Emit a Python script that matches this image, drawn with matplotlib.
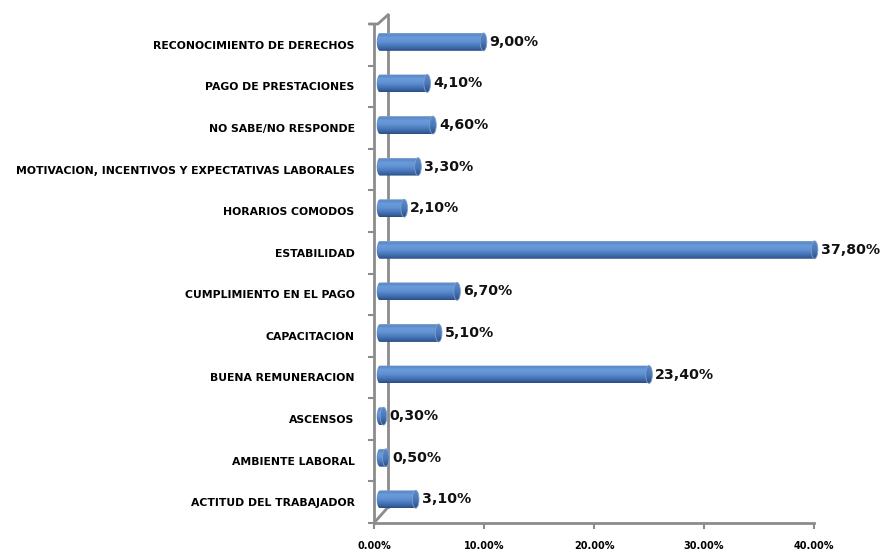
import numpy as np
import matplotlib
matplotlib.use('Agg')
import matplotlib.pyplot as plt
from matplotlib.patches import Ellipse, PathPatch
from matplotlib.path import Path
from matplotlib.colors import LinearSegmentedColormap

categories = ['ACTITUD DEL TRABAJADOR', 'AMBIENTE LABORAL', 'ASCENSOS',
              'BUENA REMUNERACION', 'CAPACITACION', 'CUMPLIMIENTO EN EL PAGO',
              'ESTABILIDAD', 'HORARIOS COMODOS',
              'MOTIVACION, INCENTIVOS Y EXPECTATIVAS LABORALES',
              'NO SABE/NO RESPONDE', 'PAGO DE PRESTACIONES',
              'RECONOCIMIENTO DE DERECHOS']
values = [3.10, 0.50, 0.30, 23.40, 5.10, 6.70, 37.80, 2.10, 3.30, 4.60, 4.10, 9.00]
xticks = [0, 10, 20, 30, 40]

# 3d look
BAR_H = 0.43
LIFT = 0.07
START = 0.55
DEPTH = 1.045
CAP_W = 0.6
AXCOL = '#8c8c8c'

body_cmap = LinearSegmentedColormap.from_list('body', [
    (0.0, '#2a4d80'), (0.15, '#3a66a6'), (0.5, '#5f90d2'),
    (0.75, '#6b9bd9'), (0.92, '#5688c8'), (1.0, '#8aa3c6')])
cap_cmap = LinearSegmentedColormap.from_list('cap', [
    (0.0, '#2e5084'), (0.5, '#4a79ba'), (1.0, '#5e8bc8')])

fig = plt.figure(figsize=(8.8, 5.54), dpi=100, facecolor='white')
ax = fig.add_axes([374 / 880, 1 - 523 / 554, 440 / 880, 499 / 554])
ax.set_xlim(0, 40)
ax.set_ylim(-0.5, len(categories) - 0.5)

grad = np.linspace(0, 1, 64).reshape(-1, 1)


def cylinder(y, v):
    x0 = START
    x1 = START + v * DEPTH
    yc = y + LIFT
    top, bot = yc + BAR_H / 2, yc - BAR_H / 2
    t = np.linspace(np.pi / 2, 3 * np.pi / 2, 30)
    arc = np.column_stack([x0 + CAP_W / 2 * np.cos(t), yc + BAR_H / 2 * np.sin(t)])
    verts = np.vstack([[[x1, top]], arc, [[x1, bot]], [[x1, top]]])
    codes = [Path.MOVETO] + [Path.LINETO] * (len(verts) - 2) + [Path.CLOSEPOLY]
    body = PathPatch(Path(verts, codes), facecolor='none', edgecolor='none',
                     clip_on=False)
    ax.add_patch(body)
    im = ax.imshow(grad, cmap=body_cmap, aspect='auto', origin='lower',
                   extent=[x0 - CAP_W, x1 + CAP_W, bot, top], zorder=3)
    im.set_clip_path(body)
    im.set_clip_box(fig.bbox)
    cap = Ellipse((x1, yc), CAP_W, BAR_H, facecolor='none', edgecolor='none',
                  clip_on=False)
    ax.add_patch(cap)
    im2 = ax.imshow(grad, cmap=cap_cmap, aspect='auto', origin='lower',
                    extent=[x1 - CAP_W, x1 + CAP_W, bot, top], zorder=4)
    im2.set_clip_path(cap)
    im2.set_clip_box(fig.bbox)
    ax.add_patch(Ellipse((x1, yc), CAP_W, BAR_H, facecolor='none',
                         edgecolor='#7d9fcf', lw=0.6, zorder=5, clip_on=False))
    return x1 + CAP_W / 2


for i, v in enumerate(values):
    xend = cylinder(i, v)
    ax.annotate(f'{v:.2f}%'.replace('.', ','), (xend, i + LIFT),
                xytext=(2, 0), textcoords='offset points', va='center',
                ha='left', fontsize=10.2, fontweight='bold', color='#111111',
                family='DejaVu Sans', zorder=6, annotation_clip=False)

# back wall line and floor edges
d = 1.27
ax.plot([d, d], [-0.5 + 0.38, len(categories) - 0.5 + 0.22], color=AXCOL,
        lw=2, clip_on=False, zorder=1)
ax.plot([0, d], [-0.5, -0.5 + 0.38], color=AXCOL, lw=2, clip_on=False, zorder=1)
ax.plot([-0.35, 0.35, d], [len(categories) - 0.5, len(categories) - 0.5,
                            len(categories) - 0.5 + 0.22],
        color=AXCOL, lw=2, clip_on=False, zorder=1)

for s in ['top', 'right']:
    ax.spines[s].set_visible(False)
for s in ['left', 'bottom']:
    ax.spines[s].set_color(AXCOL)
    ax.spines[s].set_linewidth(2)

ax.set_yticks(np.arange(len(categories) + 1) - 0.5)
ax.set_yticklabels([])
ax.set_yticks(np.arange(len(categories)), minor=True)
ax.set_yticklabels(categories, minor=True, fontsize=7.8, fontweight='bold',
                   family='DejaVu Sans')
ax.tick_params(axis='y', which='major', length=4, width=1.5, color=AXCOL)
ax.tick_params(axis='y', which='minor', length=0, pad=14)

ax.set_xticks(xticks)
ax.set_xticklabels([f'{t:.2f}%' for t in xticks], fontsize=7, fontweight='bold',
                   family='DejaVu Sans')
ax.tick_params(axis='x', length=4, width=1.5, color=AXCOL, pad=9)

fig.savefig('out.png', dpi=100, facecolor='white')
